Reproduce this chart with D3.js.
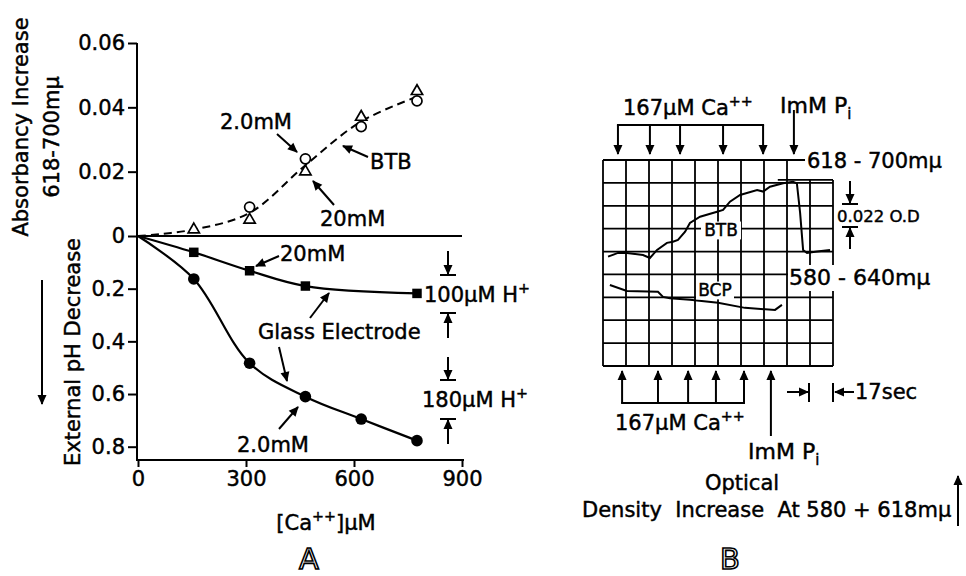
<!DOCTYPE html>
<html lang="en">
<head>
<meta charset="utf-8" />
<title>Ca++ induced acidification – BTB / glass electrode</title>
<script src="https://d3js.org/d3.v7.min.js"></script>
<style>
  html, body { margin: 0; padding: 0; background: #fff; }
  svg text { font-family: "DejaVu Sans", sans-serif; fill: #000; stroke: #000; stroke-width: 0.45px; white-space: pre; }
  .axis path.domain { display: none; }
  .axis line { stroke: #000; stroke-width: 2px; }
  .axis text { font-size: 21px; }
</style>
</head>
<body>
<svg id="chart" width="966" height="576"></svg>
<script>
// ---- panel A data ----
const caConc = [155, 310, 465, 620, 775];
const btb20mM = [0.002, 0.005, 0.020, 0.037, 0.045];     // open triangles
const btb2mM = [null, 0.009, 0.024, 0.034, 0.042];       // open circles
const btbFitX = [0, 155, 310, 465, 620, 775];
const btbFit = [0, 0.002, 0.0072, 0.022, 0.0356, 0.0433]; // dashed curve
const glass20mMX = [0, 155, 310, 465, 775];
const glass20mM = [0, 0.062, 0.132, 0.190, 0.218];       // filled squares
const glass2mMX = [0, 155, 310, 465, 620, 775];
const glass2mM = [0, 0.163, 0.483, 0.610, 0.695, 0.777]; // filled circles
const xTicks = [0, 300, 600, 900];
const absTicks = [0, 0.02, 0.04, 0.06];
const phTicks = [0.2, 0.4, 0.6, 0.8];

// ---- panel B recorder traces (chart divisions) ----
const btbTraceT = [0.22, 0.65, 1.04, 1.74, 2.04, 2.35, 2.78, 3.04, 3.26, 3.57, 3.78, 4.22, 4.96, 5.22, 5.52, 5.96, 6.70, 6.96, 7.26, 7.83, 8.26, 8.43, 8.57, 8.70, 8.87, 9.30, 9.87];
const btbTraceOD = [4.22, 4.06, 4.06, 4.15, 4.28, 3.93, 3.62, 3.57, 3.49, 3.13, 2.75, 2.48, 2.26, 2.18, 1.82, 1.53, 1.31, 1.38, 1.17, 1.02, 0.95, 1.02, 2.31, 3.93, 4.06, 4.00, 3.93];
const bcpTraceT = [0.30, 1.04, 2.39, 2.61, 2.91, 3.78, 5.00, 6.17, 7.48, 7.78];
const bcpTraceOD = [5.46, 5.72, 5.76, 5.98, 6.04, 6.11, 6.24, 6.46, 6.55, 6.33];
const caAddTop = [0.65, 2.04, 3.35, 5.22, 6.96];
const piAddTop = 8.30;
const caAddBottom = [0.83, 2.39, 3.70, 4.91, 6.13];
const piAddBottom = 7.30;

const svg = d3.select("#chart");

// arrowhead
svg.append("defs").append("marker")
  .attr("id", "ah")
  .attr("viewBox", "0 0 10 10")
  .attr("refX", 9).attr("refY", 5)
  .attr("markerWidth", 11).attr("markerHeight", 10)
  .attr("markerUnits", "userSpaceOnUse")
  .attr("orient", "auto")
  .append("path").attr("d", "M0,0.5 L10,5 L0,9.5 Z").attr("fill", "#000");

function arrow(x1, y1, x2, y2) {
  svg.append("line")
    .attr("x1", x1).attr("y1", y1).attr("x2", x2).attr("y2", y2)
    .attr("stroke", "#000").attr("stroke-width", 2)
    .attr("marker-end", "url(#ah)");
}
function seg(x1, y1, x2, y2, w) {
  svg.append("line")
    .attr("x1", x1).attr("y1", y1).attr("x2", x2).attr("y2", y2)
    .attr("stroke", "#000").attr("stroke-width", w || 2);
}
function label(x, y, txt, size, anchor) {
  return svg.append("text").attr("x", x).attr("y", y)
    .attr("font-size", size || 21)
    .attr("text-anchor", anchor || "start")
    .text(txt);
}
// text with superscript / subscript part
function richLabel(x, y, parts, size, anchor) {
  const t = svg.append("text").attr("x", x).attr("y", y)
    .attr("font-size", size).attr("text-anchor", anchor || "start");
  let shift = 0;
  parts.forEach(p => {
    const off = p.sup ? -9 : p.sub ? 6 : 0;
    t.append("tspan")
      .attr("dy", off - shift)
      .attr("font-size", (p.sup || p.sub) ? size * 0.68 : size)
      .text(p.t);
    shift = off;
  });
  return t;
}

// ================= PANEL A =================
const x = d3.scaleLinear().domain([0, 900]).range([138, 462]);
const yTop = d3.scaleLinear().domain([0, 0.06]).range([236, 43]);
const yBot = d3.scaleLinear().domain([0, 0.8]).range([236, 446.7]);
const axisBottomY = 460;

svg.append("g").attr("class", "axis")
  .attr("transform", "translate(137,0)")
  .call(d3.axisLeft(yTop).tickValues(absTicks).tickSize(9).tickPadding(3)
    .tickFormat(d => d === 0 ? "0" : d3.format(".2f")(d)));
svg.append("g").attr("class", "axis")
  .attr("transform", "translate(137,0)")
  .call(d3.axisLeft(yBot).tickValues(phTicks).tickSize(9).tickPadding(3)
    .tickFormat(d3.format(".1f")));
svg.append("g").attr("class", "axis")
  .attr("transform", `translate(0,${axisBottomY})`)
  .call(d3.axisBottom(x).tickValues(xTicks).tickSize(7).tickPadding(4)
    .tickFormat(d3.format("d")));

// axis lines
seg(137, yTop(0.06), 137, axisBottomY + 1);
seg(137, axisBottomY, x(900) + 2, axisBottomY);
seg(137, yTop(0), x(900), yTop(0));

// curves
const smooth = d3.curveCatmullRom.alpha(0.5);
svg.append("path")
  .datum(btbFitX.map((c, i) => [x(c), yTop(btbFit[i])]))
  .attr("d", d3.line().curve(smooth))
  .attr("fill", "none").attr("stroke", "#000").attr("stroke-width", 2)
  .attr("stroke-dasharray", "8,5");
svg.append("path")
  .datum(glass20mMX.map((c, i) => [x(c), yBot(glass20mM[i])]))
  .attr("d", d3.line().curve(smooth))
  .attr("fill", "none").attr("stroke", "#000").attr("stroke-width", 2.2);
svg.append("path")
  .datum(glass2mMX.map((c, i) => [x(c), yBot(glass2mM[i])]))
  .attr("d", d3.line().curve(smooth))
  .attr("fill", "none").attr("stroke", "#000").attr("stroke-width", 2.2);

// symbols
svg.append("g").selectAll("path")
  .data(caConc.map((c, i) => [c, btb20mM[i]]))
  .join("path")
  .attr("transform", d => `translate(${x(d[0])},${yTop(d[1])})`)
  .attr("d", d3.symbol(d3.symbolTriangle, 55))
  .attr("fill", "#fff").attr("stroke", "#000").attr("stroke-width", 1.7);
svg.append("g").selectAll("circle")
  .data(caConc.map((c, i) => [c, btb2mM[i]]).filter(d => d[1] != null))
  .join("circle")
  .attr("cx", d => x(d[0])).attr("cy", d => yTop(d[1])).attr("r", 5)
  .attr("fill", "#fff").attr("stroke", "#000").attr("stroke-width", 1.7);
svg.append("g").selectAll("path")
  .data(glass20mMX.map((c, i) => [c, glass20mM[i]]).filter(d => d[0] > 0))
  .join("path")
  .attr("transform", d => `translate(${x(d[0])},${yBot(d[1])})`)
  .attr("d", d3.symbol(d3.symbolSquare, 90))
  .attr("fill", "#000");
svg.append("g").selectAll("circle")
  .data(glass2mMX.map((c, i) => [c, glass2mM[i]]).filter(d => d[0] > 0))
  .join("circle")
  .attr("cx", d => x(d[0])).attr("cy", d => yBot(d[1])).attr("r", 5.8)
  .attr("fill", "#000");

// annotations
label(220, 129, "2.0mM");
arrow(277, 134, 297, 152);
label(370, 169, "BTB");
arrow(368, 157, 343, 146);
label(320, 226, "20mM");
arrow(334, 205, 313, 181);
label(280, 261, "20mM");
arrow(279, 256, 256, 266);
label(258, 339, "Glass Electrode");
arrow(310, 318, 329, 293);
arrow(279, 347, 287, 381);
label(237, 452, "2.0mM");
arrow(279, 429, 298, 407);

// H+ scale bars
arrow(448, 251, 448, 274);
seg(440, 275, 456, 275);
richLabel(424, 302, [{t: "100µM H"}, {t: "+", sup: true}], 21);
seg(440, 313, 456, 313);
arrow(448, 338, 448, 314);
arrow(448, 357, 448, 379);
seg(440, 380, 456, 380);
richLabel(422, 407, [{t: "180µM H"}, {t: "+", sup: true}], 21);
seg(440, 419, 456, 419);
arrow(448, 444, 448, 420);

// axis titles
svg.append("text").attr("transform", "translate(28,127) rotate(-90)")
  .attr("text-anchor", "middle").attr("font-size", 21).text("Absorbancy Increase");
svg.append("text").attr("transform", "translate(59,137) rotate(-90)")
  .attr("text-anchor", "middle").attr("font-size", 21).text("618-700mµ");
svg.append("text").attr("transform", "translate(80,352) rotate(-90)")
  .attr("text-anchor", "middle").attr("font-size", 21).text("External pH Decrease");
arrow(42, 280, 42, 404);
richLabel(326, 530, [{t: "[Ca"}, {t: "++", sup: true}, {t: "]µM"}], 21, "middle");

svg.append("text").attr("x", 309).attr("y", 569).attr("text-anchor", "middle")
  .attr("font-size", 29)
  .style("stroke-width", "1.6px").style("fill", "#fff").text("A");

// ================= PANEL B =================
const gx = d3.scaleLinear().domain([0, 10]).range([603, 833]);
const gy = d3.scaleLinear().domain([0, 9]).range([160, 366]);

const grid = svg.append("g").attr("stroke", "#000").attr("stroke-width", 1.8);
d3.range(0, 11).forEach(i => {
  grid.append("line")
    .attr("x1", gx(i)).attr("x2", gx(i))
    .attr("y1", i >= 9 ? gy(0.87) : gy(0)).attr("y2", gy(9));
});
d3.range(0, 10).forEach(j => {
  grid.append("line")
    .attr("x1", gx(0)).attr("x2", j === 0 ? 805 : gx(10))
    .attr("y1", gy(j)).attr("y2", gy(j));
});
grid.append("line").attr("x1", gx(7.6)).attr("x2", gx(10))
  .attr("y1", gy(0.87)).attr("y2", gy(0.87));

// white boxes behind labels inside / beside grid
function boxedLabel(cx, y, txt, size, w) {
  svg.append("rect").attr("x", cx - w / 2).attr("y", y - size * 0.85)
    .attr("width", w).attr("height", size * 1.05).attr("fill", "#fff");
  label(cx, y, txt, size, "middle");
}

const traceLine = d3.line().curve(d3.curveLinear);
svg.append("path")
  .datum(btbTraceT.map((t, i) => [gx(t), gy(btbTraceOD[i])]))
  .attr("d", traceLine)
  .attr("fill", "none").attr("stroke", "#000").attr("stroke-width", 2);
svg.append("path")
  .datum(bcpTraceT.map((t, i) => [gx(t), gy(bcpTraceOD[i])]))
  .attr("d", traceLine)
  .attr("fill", "none").attr("stroke", "#000").attr("stroke-width", 2);

boxedLabel(721, 236, "BTB", 17, 40);
boxedLabel(715, 296, "BCP", 17, 38);

// wavelength labels
svg.append("rect").attr("x", 806).attr("y", 148).attr("width", 140).attr("height", 26).attr("fill", "#fff");
label(807, 168, "618 - 700mµ", 21);
svg.append("rect").attr("x", 788).attr("y", 265).attr("width", 150).attr("height", 26).attr("fill", "#fff");
label(789, 285, "580 - 640mµ", 22);

// OD scale bar
arrow(850, 181, 850, 203);
seg(842, 204, 858, 204);
label(837, 222, "0.022 O.D", 16.5);
seg(842, 227, 858, 227);
arrow(850, 249, 850, 228);

// top additions
richLabel(623, 115, [{t: "167µM Ca"}, {t: "++", sup: true}], 21);
richLabel(780, 113, [{t: "ImM P"}, {t: "i", sub: true}], 22);
seg(gx(caAddTop[0]) - 1, 125, gx(caAddTop[caAddTop.length - 1]) + 1, 125);
caAddTop.forEach(t => arrow(gx(t), 125, gx(t), 154));
arrow(gx(piAddTop), 110, gx(piAddTop), 154);

// bottom additions
seg(gx(caAddBottom[0]) - 1, 403, gx(caAddBottom[caAddBottom.length - 1]) + 1, 403);
caAddBottom.forEach(t => arrow(gx(t), 403, gx(t), 371));
arrow(gx(piAddBottom), 436, gx(piAddBottom), 371);
richLabel(615, 430, [{t: "167µM Ca"}, {t: "++", sup: true}], 21);
richLabel(748, 459, [{t: "ImM P"}, {t: "i", sub: true}], 22);

// time scale
arrow(787, 392, 808, 392);
seg(809, 383, 809, 402);
seg(833, 383, 833, 402);
arrow(854, 392, 835, 392);
label(855, 399, "17sec", 21);

label(742, 490, "Optical", 21, "middle");
label(582, 517, "Density  Increase  At 580 + 618mµ", 21);
arrow(958, 526, 958, 476);

svg.append("text").attr("x", 730).attr("y", 569).attr("text-anchor", "middle")
  .attr("font-size", 29)
  .style("stroke-width", "1.6px").style("fill", "#fff").text("B");
</script>
</body>
</html>
